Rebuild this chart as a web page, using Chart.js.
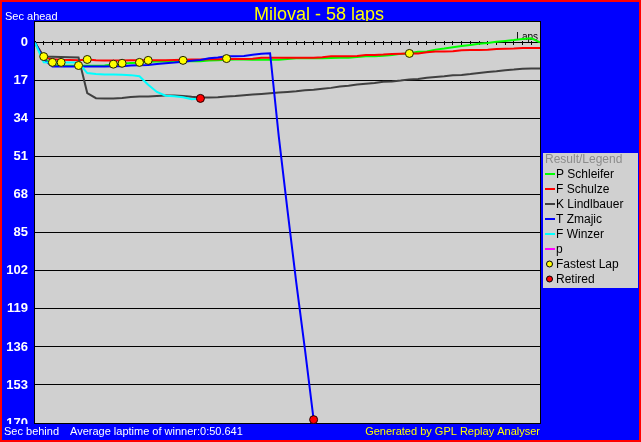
<!DOCTYPE html>
<html>
<head>
<meta charset="utf-8">
<title>Miloval - 58 laps</title>
<script src="https://cdn.jsdelivr.net/npm/chart.js@4.4.1/dist/chart.umd.min.js"></script>
<style>
  html, body { margin: 0; padding: 0; background: #0000ff; overflow: hidden; }
  canvas { display: block; }
</style>
</head>
<body>
<canvas id="raceChart" width="641" height="442"></canvas>
<script>
const chartTitle = 'Miloval - 58 laps';
const avgLaptime = 'Average laptime of winner:0:50.641';

const laps = [0, 1, 2, 3, 4, 5, 6, 7, 8, 9, 10, 11, 12, 13, 14, 15, 16, 17, 18, 19,
  20, 21, 22, 23, 24, 25, 26, 27, 28, 29, 30, 31, 32, 33, 34, 35, 36, 37, 38, 39,
  40, 41, 42, 43, 44, 45, 46, 47, 48, 49, 50, 51, 52, 53, 54, 55, 56, 57, 58];
const yTicks = [0, 17, 34, 51, 68, 85, 102, 119, 136, 153, 170];

const drivers = ['P Schleifer', 'F Schulze', 'K Lindlbauer', 'T Zmajic', 'F Winzer', 'p'];

// seconds behind the reference (negative = ahead), one value per lap
const schleifer = [0, 6.8, 10.0, 10.3, 10.3, 10.3, 10.3, 10.3, 10.2, 9.7,
  9.4, 9.1, 9.0, 8.5, 8.4, 8.4, 8.4, 8.2, 8.3, 8.3,
  8.0, 7.8, 7.6, 7.5, 7.5, 7.6, 7.6, 7.6, 7.6, 7.3,
  7.0, 7.0, 7.0, 7.0, 6.8, 6.7, 6.7, 6.4, 6.1, 6.1,
  5.8, 5.5, 5.0, 4.7, 4.1, 3.9, 3.1, 2.6, 2.0, 1.5,
  1.0, 0.5, 0.1, -0.4, -0.8, -1.2, -1.7, -2.0, -0.2];
const schulze = [0, 6.6, 7.4, 7.6, 7.7, 7.8, 7.5, 7.9, 8.0, 8.0,
  8.0, 7.9, 7.9, 7.9, 7.8, 7.8, 7.7, 7.6, 7.5, 7.5,
  7.4, 7.4, 7.3, 7.3, 7.3, 7.2, 6.7, 6.7, 6.7, 6.7,
  6.7, 6.7, 6.7, 6.5, 6.1, 6.1, 6.1, 5.9, 5.5, 5.5,
  5.3, 5.0, 4.9, 4.8, 4.8, 4.3, 3.9, 3.9, 3.8, 3.4,
  3.3, 3.3, 3.2, 2.8, 2.7, 2.6, 2.4, 2.4, 2.4];
const lindlbauer = [0, 6.2, 6.3, 6.4, 6.5, 6.6, 22.5, 24.8, 24.9, 24.9,
  24.7, 24.3, 24.0, 24.0, 23.8, 23.6, 23.6, 23.8, 24.2, 24.5,
  24.5, 24.4, 24.0, 23.8, 23.5, 23.2, 22.9, 22.6, 22.3, 22.0,
  21.7, 21.3, 21.0, 20.6, 20.2, 19.6, 19.2, 18.7, 18.3, 18.0,
  17.5, 17.3, 16.9, 16.4, 16.2, 15.7, 15.3, 15.0, 14.6, 14.4,
  14.0, 13.5, 13.1, 12.8, 12.3, 12.0, 11.6, 11.5, 11.5];
const zmajic = [0, 7.5, 10.6, 10.6, 10.6, 10.6, 10.6, 10.6, 10.6, 10.5,
  10.5, 10.2, 10.1, 10.0, 9.5, 9.2, 8.9, 8.5, 8.1, 7.7,
  7.0, 6.6, 6.1, 6.1, 5.9, 5.4, 4.9, 4.7, 42, 75,
  107, 137, 168.5];
const winzer = [0, 8.7, 8.8, 8.8, 8.8, 8.9, 13.6, 14.0, 14.2, 14.2,
  14.3, 14.5, 15.0, 18.8, 22.0, 23.7, 23.9, 24.4, 25.3, 24.9];
const pDriver = [];

const fastestLapX = [1, 2, 3, 5, 6, 9, 10, 12, 13, 17, 22, 43];
const fastestLapY = [6.2, 8.8, 8.8, 10.2, 7.5, 9.6, 9.2, 8.8, 7.9, 7.9, 7.1, 4.8];
const retiredX = [19, 32];
const retiredY = [24.9, 168.5];

const series = [schleifer, schulze, lindlbauer, zmajic, winzer, pDriver];
const colors = ['#00ff00', '#ff0000', '#404040', '#0000ff', '#00ffff', '#ff00ff'];
const drawOrder = [6, 5, 4, 3, 2, 7];
const FONT = '"Liberation Sans", Arial, sans-serif';

const datasets = [
  {
    label: 'Fastest Lap',
    data: fastestLapX.map((x, i) => ({ x: x, y: fastestLapY[i] })),
    showLine: false,
    pointRadius: 4,
    pointBackgroundColor: '#ffff00',
    pointBorderColor: '#202000',
    pointBorderWidth: 1,
    clip: false,
    order: 1
  },
  {
    label: 'Retired',
    data: retiredX.map((x, i) => ({ x: x, y: retiredY[i] })),
    showLine: false,
    pointRadius: 4,
    pointBackgroundColor: '#ff0000',
    pointBorderColor: '#200000',
    pointBorderWidth: 1,
    clip: false,
    order: 0
  }
];
drivers.forEach((name, i) => {
  datasets.push({
    label: name,
    data: series[i].map((v, j) => ({ x: laps[j], y: v })),
    borderColor: colors[i],
    backgroundColor: colors[i],
    borderWidth: 2,
    pointRadius: 0,
    tension: 0,
    fill: false,
    order: drawOrder[i]
  });
});

const framePlugin = {
  id: 'frame',
  beforeDraw(chart) {
    const { ctx, chartArea: a, width, height } = chart;
    ctx.save();
    ctx.fillStyle = '#ff0000';
    ctx.fillRect(0, 0, width, height);
    ctx.fillStyle = '#0000ff';
    ctx.fillRect(2, 2, width - 4, height - 4);

    ctx.textBaseline = 'alphabetic';
    ctx.fillStyle = '#ffff00';
    ctx.font = '18px ' + FONT;
    ctx.textAlign = 'center';
    ctx.fillText(chartTitle, 319, 20);
    ctx.fillStyle = '#ffffff';
    ctx.font = '11px ' + FONT;
    ctx.textAlign = 'left';
    ctx.fillText('Sec ahead', 5, 20);

    ctx.fillStyle = '#d0d0d0';
    ctx.fillRect(a.left, a.top, a.right - a.left, a.bottom - a.top);
    ctx.strokeStyle = '#000000';
    ctx.lineWidth = 1;
    ctx.strokeRect(a.left - 0.5, a.top - 0.5, a.right - a.left + 1, a.bottom - a.top + 1);

    ctx.fillStyle = '#000000';
    ctx.font = '10px ' + FONT;
    ctx.textAlign = 'right';
    ctx.fillText('Laps', 538, 40);
    ctx.restore();
  },
  afterDraw(chart) {
    const { ctx } = chart;
    ctx.save();
    // footer strip
    ctx.fillStyle = '#0000ff';
    ctx.fillRect(2, 424, 637, 16);
    ctx.font = '11px ' + FONT;
    ctx.textBaseline = 'alphabetic';
    ctx.textAlign = 'left';
    ctx.fillStyle = '#ffffff';
    ctx.fillText('Sec behind', 4, 435);
    ctx.fillText(avgLaptime, 70, 435);
    ctx.fillStyle = '#ffff00';
    ctx.textAlign = 'right';
    ctx.fillText('Generated by GPL Replay Analyser', 540, 435);

    // legend
    ctx.fillStyle = '#d0d0d0';
    ctx.fillRect(543, 153, 95, 135);
    ctx.textAlign = 'left';
    ctx.textBaseline = 'middle';
    ctx.font = '12px ' + FONT;
    ctx.fillStyle = '#8c8c8c';
    ctx.fillText('Result/Legend', 545, 160);
    drivers.forEach((name, i) => {
      const y = 174 + 15 * i;
      ctx.strokeStyle = colors[i];
      ctx.lineWidth = 2;
      ctx.beginPath();
      ctx.moveTo(545, y);
      ctx.lineTo(555, y);
      ctx.stroke();
      ctx.fillStyle = '#000000';
      ctx.fillText(name, 556, y + 1);
    });
    [datasets[0], datasets[1]].forEach((ds, k) => {
      const y = 174 + 15 * (drivers.length + k);
      ctx.beginPath();
      ctx.arc(549.5, y, 3, 0, Math.PI * 2);
      ctx.fillStyle = ds.pointBackgroundColor;
      ctx.fill();
      ctx.strokeStyle = '#000000';
      ctx.lineWidth = 1;
      ctx.stroke();
      ctx.fillStyle = '#000000';
      ctx.fillText(ds.label, 556, y + 1);
    });
    ctx.restore();
  }
};

new Chart(document.getElementById('raceChart'), {
  type: 'line',
  data: { datasets: datasets },
  options: {
    responsive: false,
    devicePixelRatio: 1,
    animation: false,
    events: [],
    layout: { padding: { left: 0, top: 22, right: 101, bottom: 19 } },
    plugins: {
      legend: { display: false },
      tooltip: { enabled: false },
      title: { display: false }
    },
    scales: {
      x: {
        type: 'linear',
        min: 0,
        max: 58,
        position: { y: -0.9 },
        afterBuildTicks: scale => { scale.ticks = laps.map(v => ({ value: v })); },
        ticks: { display: false },
        grid: { drawOnChartArea: false, drawTicks: true, tickLength: 4, color: '#000000', lineWidth: 1 },
        border: { display: false }
      },
      y: {
        type: 'linear',
        reverse: true,
        min: -9.25,
        max: 170,
        afterBuildTicks: scale => { scale.ticks = yTicks.map(v => ({ value: v })); },
        afterFit: scale => { scale.width = 35; },
        ticks: {
          color: '#ffffff',
          padding: 7,
          font: { family: FONT, size: 13, weight: 'bold' }
        },
        grid: { color: '#000000', lineWidth: 1, drawTicks: false },
        border: { display: false }
      }
    }
  },
  plugins: [framePlugin]
});
</script>
</body>
</html>
